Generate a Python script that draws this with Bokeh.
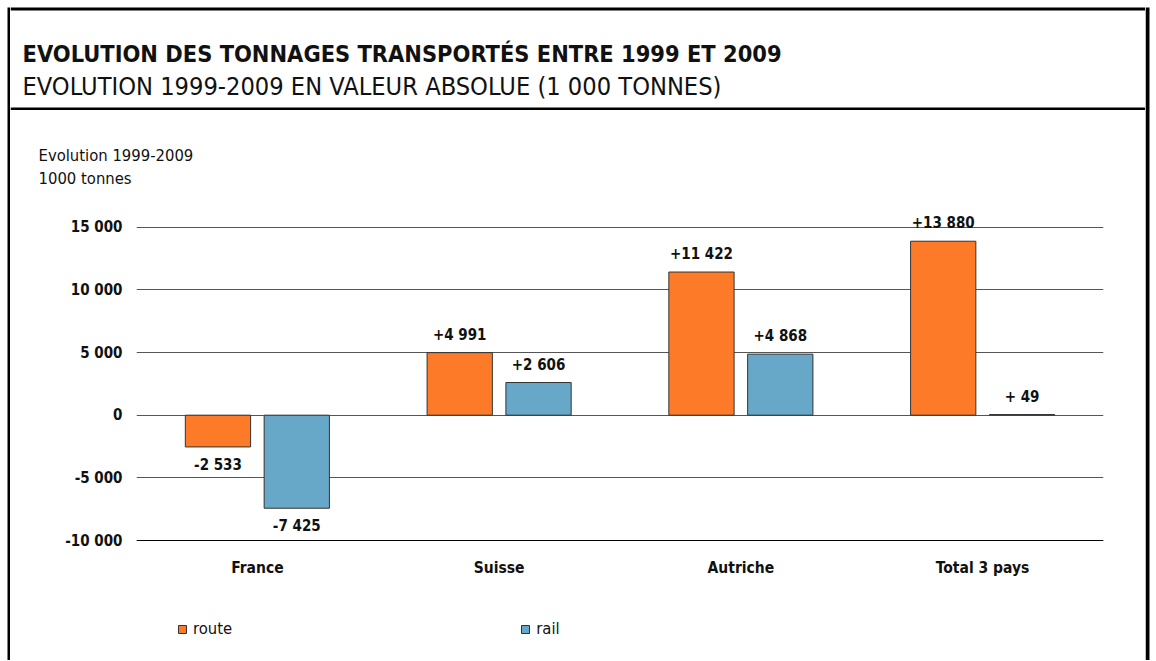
from bokeh.plotting import figure
from bokeh.layouts import column, row
from bokeh.models import (ColumnDataSource, FactorRange, Range1d, FixedTicker, Label,
                          LabelSet, Legend, LegendItem, BoxAnnotation)
from bokeh.core.properties import value
from bokeh.transform import dodge
from bokeh.embed import file_html
from bokeh.resources import INLINE

# ---- data ----
categories = ["France", "Suisse", "Autriche", "Total 3 pays"]
route = [-2533, 4991, 11422, 13880]
rail = [-7425, 2606, 4868, 49]
route_labels = ["-2 533", "+4 991", "+11 422", "+13 880"]
rail_labels = ["-7 425", "+2 606", "+4 868", "+ 49"]
tick_values = [-10000, -5000, 0, 5000, 10000, 15000]
tick_labels = ["-10 000", "-5 000", "0", "5 000", "10 000", "15 000"]

title_text = "EVOLUTION DES TONNAGES TRANSPORTÉS ENTRE 1999 ET 2009"
subtitle_text = "EVOLUTION 1999-2009 EN VALEUR ABSOLUE (1 000 TONNES)"
unit_lines = ["Evolution 1999-2009", "1000 tonnes"]

FONT = "DejaVu Sans Condensed"
ORANGE = "#FD7B28"
BLUE = "#67A8C9"
EDGE = "#333333"
INK = "#111111"


def blank(width, height):
    f = figure(width=width, height=height, x_range=Range1d(0, width), y_range=Range1d(0, height),
               output_backend="svg", toolbar_location=None, title=None,
               x_axis_type=None, y_axis_type=None, min_border=0, frame_align=False)
    f.outline_line_color = None
    f.grid.visible = False
    return f


def bar(f, left, right, top, bottom):
    f.add_layout(BoxAnnotation(left=left, right=right, top=top, bottom=bottom,
                               left_units="screen", right_units="screen",
                               top_units="screen", bottom_units="screen",
                               fill_color="black", fill_alpha=1, line_color=None))


W = 1135
TOTAL_H = 660

# ---- header ----
hdr = blank(W, 110)
bar(hdr, 0, W, 103, 100)
bar(hdr, 0, W, 3, 0)
hdr.add_layout(Label(x=12, y=57, x_units="screen", y_units="screen", text=title_text,
                     text_font=FONT, text_font_style="bold", text_font_size="23.4px",
                     text_color=INK, text_baseline="alphabetic"))
hdr.add_layout(Label(x=12, y=24, x_units="screen", y_units="screen", text=subtitle_text,
                     text_font=FONT, text_font_size="25.2px",
                     text_color=INK, text_baseline="alphabetic"))

# ---- unit text ----
units = blank(W, 90)
for i, t in enumerate(unit_lines):
    units.add_layout(Label(x=28, y=45 - 23 * i, x_units="screen", y_units="screen", text=t,
                           text_font=FONT, text_font_size="16.5px",
                           text_color=INK, text_baseline="alphabetic"))

# ---- chart ----
def off(v):
    return 18 if v >= 0 else -18

src = ColumnDataSource(dict(
    cat=categories, route=route, rail=rail,
    route_lab=route_labels, rail_lab=rail_labels,
    route_off=[off(v) for v in route], rail_off=[off(v) for v in rail],
))

p = figure(x_range=FactorRange(*categories), y_range=Range1d(-19575, 17130),
           width=W, height=460, output_backend="svg", toolbar_location=None,
           title=None, min_border_left=126, min_border_right=42,
           min_border_top=0, min_border_bottom=0, frame_align=False)
p.outline_line_color = None

w = 0.27
r_route = p.vbar(x=dodge("cat", -0.163, range=p.x_range), top="route", bottom=0, width=w,
                 source=src, fill_color=ORANGE, line_color=EDGE, line_width=1)
r_rail = p.vbar(x=dodge("cat", 0.163, range=p.x_range), top="rail", bottom=0, width=w,
                source=src, fill_color=BLUE, line_color=EDGE, line_width=1)

for xo, col in [(-0.163, "route"), (0.163, "rail")]:
    p.add_layout(LabelSet(x=dodge("cat", xo, range=p.x_range), y=col, text=col + "_lab",
                          y_offset=col + "_off", source=src, text_align="center",
                          text_baseline="middle", text_font=value(FONT),
                          text_font_style="bold", text_font_size="15px", text_color=INK))

p.yaxis.ticker = FixedTicker(ticks=tick_values)
p.yaxis.major_label_overrides = {v: t for v, t in zip(tick_values, tick_labels)}
p.yaxis.axis_line_color = None
p.yaxis.major_tick_line_color = None
p.yaxis.minor_tick_line_color = None
p.yaxis.major_tick_out = 0
p.yaxis.major_tick_in = 0
p.yaxis.major_label_standoff = 14
p.yaxis.major_label_text_font = FONT
p.yaxis.major_label_text_font_style = "bold"
p.yaxis.major_label_text_font_size = "15px"
p.yaxis.major_label_text_color = INK

p.xaxis.fixed_location = tick_values[0]
p.xaxis.axis_line_color = "black"
p.xaxis.axis_line_width = 1.2
p.xaxis.major_tick_line_color = None
p.xaxis.major_tick_out = 0
p.xaxis.major_tick_in = 0
p.xaxis.major_label_standoff = 18
p.xaxis.major_label_text_font = FONT
p.xaxis.major_label_text_font_style = "bold"
p.xaxis.major_label_text_font_size = "15.5px"
p.xaxis.major_label_text_color = INK

p.xgrid.grid_line_color = None
p.ygrid.ticker = FixedTicker(ticks=tick_values)
p.ygrid.grid_line_color = "#555555"
p.ygrid.grid_line_width = 1

legend = Legend(items=[LegendItem(label="route", renderers=[r_route]),
                       LegendItem(label="rail", renderers=[r_rail])],
                orientation="horizontal", location=(41, 22), spacing=288,
                glyph_width=10, glyph_height=10, label_standoff=6,
                label_text_font=FONT, label_text_font_size="16.5px",
                label_text_color=INK, border_line_color=None,
                background_fill_alpha=0, padding=0, margin=0, label_height=14)
p.add_layout(legend, "center")

# ---- side strips with the frame lines ----
left = blank(10, TOTAL_H)
bar(left, 7, 10, TOTAL_H - 7, 0)
right = blank(5, TOTAL_H)
bar(right, 0, 4, TOTAL_H - 7, 0)

layout = row(left, column(hdr, units, p, spacing=0), right, spacing=0)

open("out.html", "w").write(file_html(layout, INLINE))
